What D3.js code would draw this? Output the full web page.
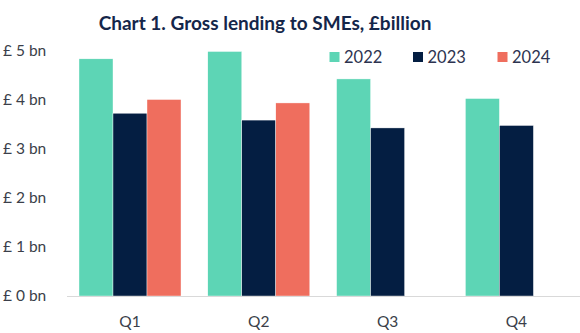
<!DOCTYPE html>
<html><head><meta charset="utf-8">
<script src="https://cdn.jsdelivr.net/npm/d3@7"></script>
<style>body{margin:0;background:#fff}svg{display:block}text{font-family:Lato,"Open Sans",sans-serif}</style>
</head><body>
<svg id="c" width="580" height="333"></svg>
<script>
const categories = ["Q1","Q2","Q3","Q4"];
const seriesNames = ["2022","2023","2024"];
const values2022 = [4.84, 4.99, 4.43, 4.03];
const values2023 = [3.73, 3.59, 3.43, 3.48];
const values2024 = [4.01, 3.94, null, null];
const yTicks = [0,1,2,3,4,5];
const yTickLabels = ["£ 0 bn","£ 1 bn","£ 2 bn","£ 3 bn","£ 4 bn","£ 5 bn"];
const colors = ["#5dd5b5","#041e42","#ef6e5e"];
const title = "Chart 1. Gross lending to SMEs, £billion";

const seriesValues = [values2022, values2023, values2024];
const svg = d3.select("#c");
const x = d3.scaleBand().domain(categories).range([65.6, 580.8]).paddingInner(0.208).paddingOuter(0.104);
const x1 = d3.scaleBand().domain(seriesNames).range([0, x.bandwidth()]);
const y = d3.scaleLinear().domain([0,5]).range([296, 51]);

svg.append("text").attr("x", 265).attr("y", 30).attr("text-anchor","middle")
  .attr("font-size", 19).attr("font-weight", 700).attr("fill", "#14264a").text(title);

// y labels
svg.append("g").selectAll("text").data(yTicks).join("text")
  .attr("x", 3).attr("y", d => y(d)).attr("dy","0.35em")
  .attr("font-size", 15.5).attr("fill", "#3b3f4a").text((d,i) => yTickLabels[i]);

// bars
const g = svg.append("g");
seriesNames.forEach((s, si) => {
  g.selectAll(null).data(categories.map((c,i)=>({c, v: seriesValues[si][i]})).filter(d => d.v != null))
    .join("rect")
    .attr("x", d => x(d.c) + x1(s)).attr("width", x1.bandwidth())
    .attr("y", d => y(d.v)).attr("height", d => y(0) - y(d.v))
    .attr("fill", colors[si]).attr("stroke", "#ffffff").attr("stroke-width", 0.4);
});

// x axis
svg.append("line").attr("x1", 67).attr("x2", 580).attr("y1", 296.5).attr("y2", 296.5)
  .attr("stroke", "#d9d9d9").attr("stroke-width", 1);
svg.append("g").selectAll("text").data(categories).join("text")
  .attr("x", d => x(d) + x.bandwidth()/2).attr("y", 322).attr("dy","0.35em")
  .attr("text-anchor","middle").attr("font-size", 15.5).attr("fill", "#3b3f4a").text(d => d);

// legend
const legX = [329.5, 413, 497.5];
const leg = svg.append("g");
seriesNames.forEach((s, i) => {
  leg.append("rect").attr("x", legX[i]).attr("y", 52).attr("width", 10).attr("height", 10).attr("fill", colors[i]);
  leg.append("text").attr("x", legX[i] + 14.5).attr("y", 57).attr("dy","0.35em")
    .attr("font-size", 16.5).attr("fill", "#2d3350").text(s);
});
</script>
</body></html>
